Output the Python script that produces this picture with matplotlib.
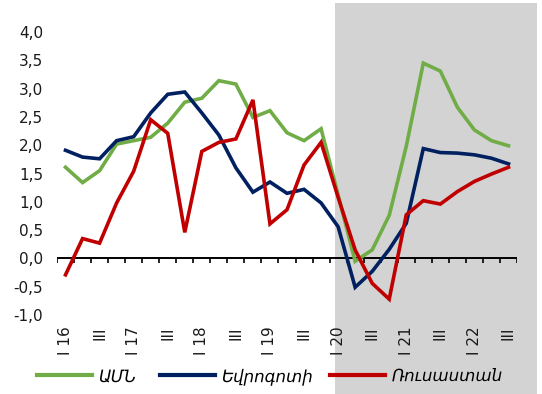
import matplotlib
matplotlib.use("Agg")
import matplotlib.pyplot as plt
from matplotlib.patches import Rectangle
from matplotlib.lines import Line2D
import numpy as np

# Quarterly values, 2016 Q1 - 2022 Q3
quarters = ["I 16", "II", "III", "IV",
            "I 17", "II", "III", "IV",
            "I 18", "II", "III", "IV",
            "I 19", "II", "III", "IV",
            "I 20", "II", "III", "IV",
            "I 21", "II", "III", "IV",
            "I 22", "II", "III"]

usa = [1.61, 1.34, 1.55, 2.02, 2.08, 2.14, 2.39,
       2.76, 2.83, 3.14, 3.08, 2.49, 2.61, 2.22,
       2.08, 2.29, 1.12, -0.05, 0.15, 0.76, 1.98,
       3.45, 3.31, 2.67, 2.27, 2.08, 1.99]

eurozone = [1.91, 1.79, 1.76, 2.08, 2.15, 2.57, 2.90,
            2.94, 2.57, 2.18, 1.60, 1.17, 1.35, 1.15,
            1.22, 0.98, 0.56, -0.51, -0.23, 0.16, 0.62,
            1.94, 1.87, 1.86, 1.83, 1.77, 1.67]

russia = [-0.29, 0.35, 0.27, 0.98, 1.54, 2.45, 2.21,
          0.46, 1.89, 2.05, 2.11, 2.80, 0.61, 0.86,
          1.65, 2.05, 1.08, 0.15, -0.44, -0.72, 0.77,
          1.02, 0.96, 1.18, 1.36, 1.49, 1.61]

series_names = ["ԱՄՆ", "Եվրոգոտի", "Ռուսաստան"]
colors = ["#70AD47", "#002060", "#C00000"]

y_ticks = np.arange(-1.0, 4.01, 0.5)

fig = plt.figure(figsize=(5.42, 3.94), dpi=100)
fig.patch.set_facecolor("white")

# grey band behind the forecast period
band = Rectangle((335 / 542, 0), (537 - 335) / 542, 1 - 3 / 394,
                 transform=fig.transFigure, facecolor="#D3D3D3",
                 edgecolor="none", zorder=-5)
fig.add_artist(band)

ax = fig.add_axes([57 / 542, 1 - 315 / 394, 460 / 542, 283 / 394])
ax.set_facecolor("none")
ax.set_zorder(2)

x = np.arange(len(quarters))
for vals, name, col in zip([usa, eurozone, russia], series_names, colors):
    ax.plot(x, vals, color=col, lw=2.6, label=name, solid_joinstyle="miter",
            zorder=3)

ax.set_xlim(-0.5, len(quarters) - 0.5)
ax.set_ylim(-1.0, 4.0)

for s in ax.spines.values():
    s.set_visible(False)

# zero line with category boundary ticks
ax.axhline(0, color="black", lw=1.4, zorder=2)
ax.vlines(np.arange(len(quarters) + 1) - 0.5, -0.075, 0, color="black",
          lw=1.2, zorder=2)

ax.set_yticks(y_ticks)
ax.set_yticklabels([f"{v:.1f}".replace(".", ",") for v in y_ticks])
ax.tick_params(axis="y", length=0, pad=10, labelsize=11, labelcolor="#1a1a1a")

label_idx = x[::2]
ax.set_xticks(label_idx)
ax.set_xticklabels([quarters[i] for i in label_idx], rotation=90)
ax.tick_params(axis="x", length=0, pad=8, labelsize=11, labelcolor="#1a1a1a")

# one legend entry per series, laid out along the bottom
entry_x = [37 / 542, 160 / 542, 330 / 542]
for name, col, ex in zip(series_names, colors, entry_x):
    handle = Line2D([], [], color=col, lw=3)
    fig.legend([handle], [name], loc="center left",
               bbox_to_anchor=(ex, 1 - 376 / 394), frameon=False,
               handlelength=3.3, handletextpad=0.4, borderpad=0,
               borderaxespad=0, prop={"style": "italic", "size": 12})

fig.savefig("out.png", dpi=100)
